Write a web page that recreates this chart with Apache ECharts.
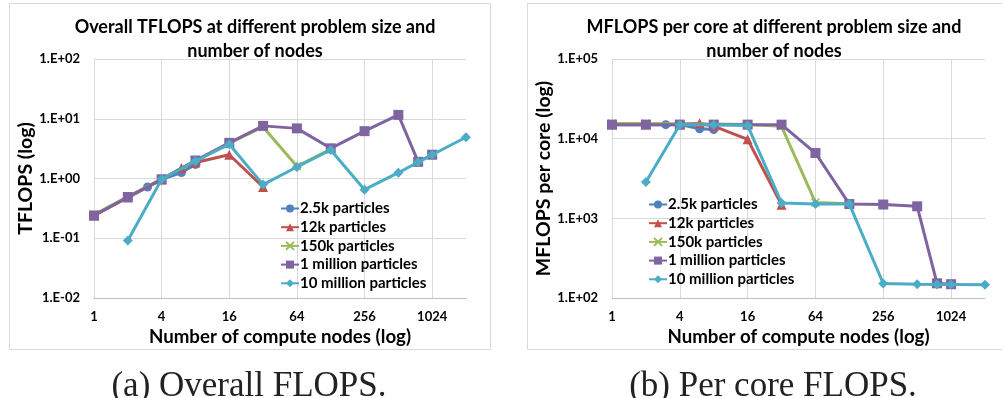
<!DOCTYPE html>
<html>
<head>
<meta charset="utf-8">
<script src="https://cdn.jsdelivr.net/npm/echarts@6/dist/echarts.min.js"></script>
<style>
html,body{margin:0;padding:0;background:#fff;}
#chart{width:1002px;height:398px;}
</style>
</head>
<body>
<div id="chart"></div>
<script>
// ---- data ----
var seriesNames = ['2.5k particles', '12k particles', '150k particles', '1 million particles', '10 million particles'];
var nodes25k = [1, 2, 3, 4, 6, 8];
var nodes12k = [1, 2, 4, 6, 8, 16, 32];
var nodes150k = [1, 2, 4, 8, 16, 32, 64, 128];
var nodes1m = [1, 2, 4, 8, 16, 32, 64, 128, 256, 512, 768, 1024];
var nodes10m = [2, 4, 8, 16, 32, 64, 128, 256, 512, 768, 1024, 2048];

var tflops25k = [0.24, 0.48, 0.72, 0.97, 1.26, 1.72];
var tflops12k = [0.24, 0.48, 0.96, 1.5, 1.85, 2.5, 0.72];
var tflops150k = [0.25, 0.5, 0.98, 2.0, 3.9, 7.3, 1.6, 3.1];
var tflops1m = [0.24, 0.49, 0.97, 2.0, 3.95, 7.6, 6.9, 3.2, 6.2, 11.6, 1.9, 2.5];
var tflops10m = [0.092, 0.97, 1.95, 3.75, 0.79, 1.56, 3.0, 0.65, 1.25, 1.88, 2.5, 4.9];

var mflops25k = [15000, 15000, 15000, 15000, 13300, 13000];
var mflops12k = [15200, 15200, 15200, 15600, 14400, 9800, 1480];
var mflops150k = [15500, 15500, 15300, 15300, 15100, 14300, 1580, 1520];
var mflops1m = [15000, 15000, 15000, 15000, 15000, 15000, 6600, 1510, 1490, 1415, 153, 149];
var mflops10m = [2850, 15000, 15000, 14600, 1560, 1510, 1510, 152, 149, 148, 148, 147];

var xTickLabels = ['1', '4', '16', '64', '256', '1024'];

var colors = ['#4F81BD', '#C0504D', '#9BBB59', '#8064A2', '#4BACC6'];
var symbols = ['circle', 'triangle', 'path://M0,0 L10,10 M10,0 L0,10', 'rect', 'diamond'];
var symbolSizes = [9, 10, 8, 10, 10];

function pairs(xs, ys) { return xs.map(function (x, i) { return [x, ys[i]]; }); }
var nodeSets = [nodes25k, nodes12k, nodes150k, nodes1m, nodes10m];
var tflopSets = [tflops25k, tflops12k, tflops150k, tflops1m, tflops10m];
var mflopSets = [mflops25k, mflops12k, mflops150k, mflops1m, mflops10m];

var FONT = 'Lato';
function expLabel(v) {
  var e = Math.round(Math.log10(v));
  var s = e < 0 ? '-' : '+';
  var a = Math.abs(e);
  return '1.E' + s + (a < 10 ? '0' : '') + a;
}
function xLabel(v) {
  var r = Math.round(v);
  var s = String(r);
  return xTickLabels.indexOf(s) >= 0 ? s : '';
}

function makeX(gi) {
  return {
    type: 'log', logBase: 4, gridIndex: gi, min: 1, max: 2048,
    name: 'Number of compute nodes (log)', nameLocation: 'middle', nameGap: 25,
    nameTextStyle: { fontFamily: FONT, fontWeight: 'bold', fontSize: 18.7, color: '#000' },
    axisLine: { show: true, lineStyle: { color: '#bfbfbf', width: 1 } },
    axisTick: { show: false },
    axisLabel: { formatter: xLabel, fontFamily: FONT, fontWeight: 'bold', fontSize: 13, color: '#000', margin: 12 },
    splitLine: { show: true, showMaxLine: false, lineStyle: { color: '#d9d9d9', width: 1 } },
    minorTick: { show: false }
  };
}
function makeY(gi, min, max, name) {
  return {
    type: 'log', logBase: 10, gridIndex: gi, min: min, max: max,
    name: name, nameLocation: 'middle', nameGap: 57, nameRotate: 90,
    nameTextStyle: { fontFamily: FONT, fontWeight: 'bold', fontSize: 19.5, color: '#000' },
    axisLine: { show: true, lineStyle: { color: '#d9d9d9', width: 1 } },
    axisTick: { show: false },
    axisLabel: { formatter: expLabel, fontFamily: FONT, fontWeight: 'bold', fontSize: 13, color: '#000', margin: 14 },
    splitLine: { show: true, lineStyle: { color: '#d9d9d9', width: 1 } }
  };
}

var series = [];
[0, 1].forEach(function (gi) {
  var sets = gi === 0 ? tflopSets : mflopSets;
  seriesNames.forEach(function (nm, i) {
    var s = {
      name: nm, type: 'line', xAxisIndex: gi, yAxisIndex: gi,
      data: pairs(nodeSets[i], sets[i]),
      symbol: symbols[i], symbolSize: symbolSizes[i], showSymbol: true,
      lineStyle: { color: colors[i], width: 3 },
      itemStyle: { color: colors[i] },
      emphasis: { disabled: true },
      animation: false, z: 2 + i
    };
    if (i === 2) {
      s.itemStyle = { color: colors[i], borderColor: colors[i], borderWidth: 1.6 };
    }
    series.push(s);
  });
});

var legendBase = {
  orient: 'vertical', itemWidth: 18, itemHeight: 10, itemGap: 3.7,
  textStyle: { fontFamily: FONT, fontWeight: 'bold', fontSize: 15, color: '#000', padding: [0, 0, 0, -4] },
  data: seriesNames, selectedMode: false
};

var chart = echarts.init(document.getElementById('chart'), null, { renderer: 'canvas' });
chart.setOption({
  backgroundColor: '#fff',
  animation: false,
  color: colors,
  title: [
    { text: 'Overall TFLOPS at different problem size and\nnumber of nodes', left: 250, top: 10, textAlign: 'center',
      textStyle: { fontFamily: FONT, fontWeight: 'bold', fontSize: 18, color: '#000', lineHeight: 24 } },
    { text: 'MFLOPS per core at different problem size and\nnumber of nodes', left: 769, top: 10, textAlign: 'center',
      textStyle: { fontFamily: FONT, fontWeight: 'bold', fontSize: 18, color: '#000', lineHeight: 24 } },
    { text: '(a) Overall FLOPS.', left: 244, top: 364, textAlign: 'center',
      textStyle: { fontFamily: 'Liberation Serif', fontWeight: 'normal', fontSize: 35, color: '#222' } },
    { text: '(b) Per core FLOPS.', left: 768, top: 364, textAlign: 'center',
      textStyle: { fontFamily: 'Liberation Serif', fontWeight: 'normal', fontSize: 35, color: '#222' } }
  ],
  legend: [
    Object.assign({}, legendBase, { left: 275, top: 196 }),
    Object.assign({}, legendBase, { left: 643, top: 192 })
  ],
  grid: [
    { left: 94, top: 59, width: 372, height: 239 },
    { left: 612, top: 59, width: 373, height: 239 }
  ],
  xAxis: [makeX(0), makeX(1)],
  yAxis: [makeY(0, 0.01, 100, 'TFLOPS (log)'), makeY(1, 100, 100000, 'MFLOPS per core (log)')],
  graphic: [
    { type: 'rect', shape: { x: 9.5, y: 3.5, width: 481, height: 346 }, style: { fill: 'none', stroke: '#d9d9d9', lineWidth: 1 }, silent: true },
    { type: 'rect', shape: { x: 527.5, y: 3.5, width: 490, height: 346 }, style: { fill: 'none', stroke: '#d9d9d9', lineWidth: 1 }, silent: true }
  ],
  series: series
});
</script>
</body>
</html>
